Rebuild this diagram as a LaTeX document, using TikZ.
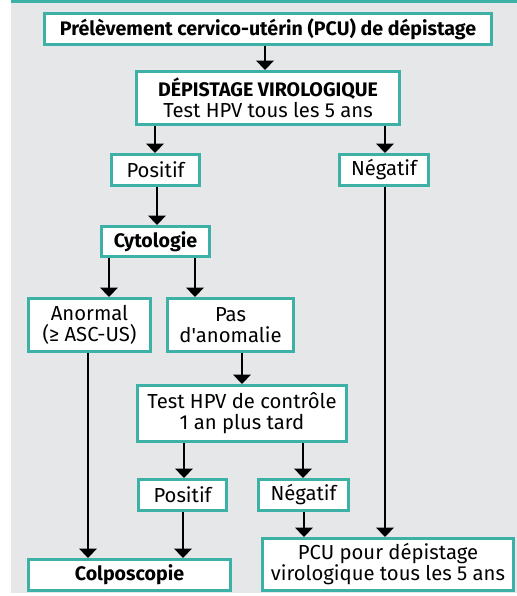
\documentclass[tikz,border=0pt]{standalone}
\usepackage{fontspec}
\setmainfont{Fira Sans}
\usetikzlibrary{arrows.meta}
\definecolor{tealline}{HTML}{3DB1A5}
\definecolor{backgray}{HTML}{E6E7E8}
\newcommand{\boldtxt}[1]{{\fontsize{14.7}{15.75}\selectfont\bfseries #1}}
\begin{document}
\begin{tikzpicture}[x=0.75pt,y=-0.75pt,
  box/.style={draw=tealline,line width=2.25pt,fill=white,align=center,inner sep=0pt,
    font=\fontsize{15.2}{15.75}\selectfont},
  wh/.style 2 args={minimum width=#1*0.75pt,minimum height=#2*0.75pt},
  arr/.style={line width=1.5pt,-{Triangle[width=13pt,length=7pt]}}]
\useasboundingbox (0,0) rectangle (517,596);
% background panel
\fill[backgray] (11,0) rectangle (517,593);
\fill[tealline] (11,0) rectangle (517,2.5);

\node[box,wh={447}{31}] (prel) at (268,29) {\boldtxt{Prélèvement cervico-utérin (PCU) de dépistage}};
\node[box,wh={263}{53}] (viro) at (268,98) {\boldtxt{DÉPISTAGE VIROLOGIQUE}\\Test HPV tous les 5 ans};
\node[box,wh={88}{31}] (posa) at (155.5,170) {Positif};
\node[box,wh={89}{31}] (nega) at (384,170) {Négatif};
\node[box,wh={108}{30}] (cyto) at (155.5,241.5) {\boldtxt{Cytologie}};
\node[box,wh={122}{53}] (anor) at (89.5,325) {Anormal\\(≥ ASC-US)};
\node[box,wh={126}{53}] (pasa) at (230.5,325) {Pas\\d\textquotesingle anomalie};
\node[box,wh={209}{56}] (ctrl) at (242,413.5) {Test HPV de contrôle\\1 an plus tard};
\node[box,wh={88}{31}] (posb) at (182.5,495) {Positif};
\node[box,wh={90}{31}] (negb) at (303.5,495) {Négatif};
\node[box,wh={251}{52}] (pcu) at (388,564.5) {PCU pour dépistage\\virologique tous les 5 ans};
\node[box,wh={202}{31}] (colp) at (129.5,575) {\boldtxt{Colposcopie}};

\draw[arr] (prel.south -| 265,0) -- (viro.north -| 265,0);
\draw[arr] (viro.south -| 155,0) -- (posa.north -| 155,0);
\draw[arr] (viro.south -| 385,0) -- (nega.north -| 385,0);
\draw[arr] (posa.south -| 157,0) -- (cyto.north -| 157,0);
\draw[arr] (cyto.south -| 109,0) -- (anor.north -| 109,0);
\draw[arr] (cyto.south -| 195,0) -- (pasa.north -| 195,0);
\draw[arr] (pasa.south -| 242,0) -- (ctrl.north -| 242,0);
\draw[arr] (ctrl.south -| 184,0) -- (posb.north -| 184,0);
\draw[arr] (ctrl.south -| 303,0) -- (negb.north -| 303,0);
\draw[arr] (anor.south -| 88,0) -- (colp.north -| 88,0);
\draw[arr] (posb.south -| 183,0) -- (colp.north -| 183,0);
\draw[arr] (negb.south -| 304,0) -- (pcu.north -| 304,0);
\draw[arr] (nega.south -| 385,0) -- (pcu.north -| 385,0);
\end{tikzpicture}
\end{document}
